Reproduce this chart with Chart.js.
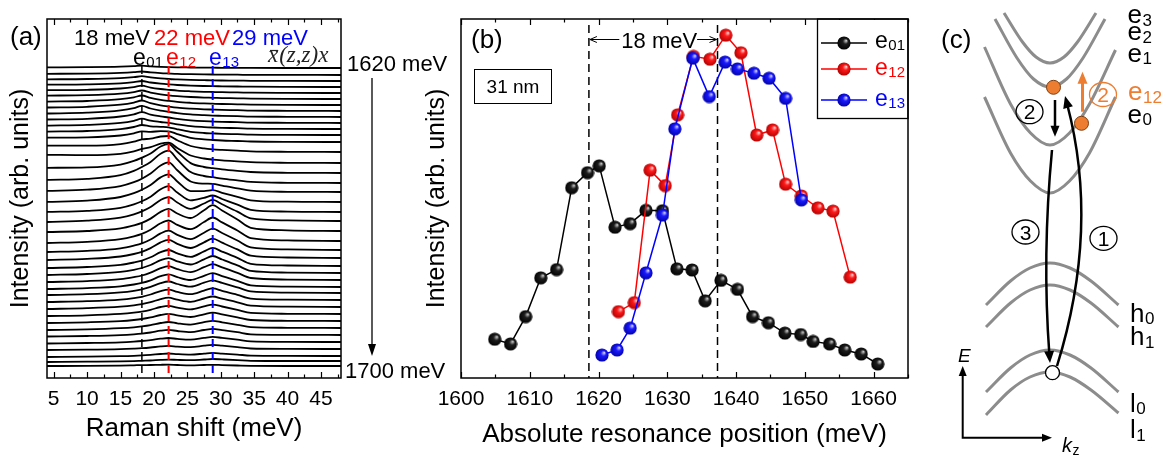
<!DOCTYPE html>
<html>
<head>
<meta charset="utf-8">
<script src="https://cdn.jsdelivr.net/npm/chart.js@4.4.0/dist/chart.umd.min.js"></script>
<style>
html, body { margin: 0; padding: 0; background: #fff; }
#wrap { position: relative; width: 1164px; height: 459px; }
#wrap canvas { position: absolute; left: 0; top: 0; }
</style>
</head>
<body>
<div id="wrap">
  <canvas id="chartA" width="1164" height="459"></canvas>
  <canvas id="chartB" width="1164" height="459"></canvas>
  <canvas id="chartC" width="1164" height="459"></canvas>
</div>
<script>
'use strict';

// ---------- (a) Raman spectra, laser 1620 -> 1700 meV in 2 meV steps (waterfall) ----------
const ramanShift = [4, 10, 15, 17, 18.2, 19.5, 21, 22.2, 23.5, 25.5, 27.5, 28.8, 30.2, 32.5, 34.5, 40, 48];
const ramanTicks = [5, 10, 15, 20, 25, 30, 35, 40, 45];
const modeShift = [18.2, 22.2, 28.8];          // e01, e12, e13
const spectrumOffset = [310, 303, 297, 291, 285, 279, 273, 267, 261, 255, 249, 243, 236, 226, 215, 205, 195, 186, 176, 166, 157,
  147, 137, 128, 120, 112, 105, 98, 91, 85, 78, 71, 64, 57, 50, 43, 36, 29, 22, 17, 12];
const spectra = [
  [0.6, 0.8, 1.3, 1.8, 2.3, 1.7, 1.2, 0.9, 0.7, 0.5, 0.3, 0.3, 0.2, 0.2, 0.1, 0, 0],
  [1.2, 1.4, 2.1, 2.8, 3.5, 2.6, 1.9, 1.5, 1.1, 0.8, 0.6, 0.5, 0.4, 0.3, 0.1, 0.1, 0],
  [1.7, 2, 2.9, 3.8, 4.8, 3.6, 2.6, 2, 1.6, 1.1, 0.8, 0.6, 0.5, 0.4, 0.2, 0.1, 0],
  [2.3, 2.6, 3.7, 4.9, 6, 4.5, 3.3, 2.6, 2, 1.4, 1, 0.8, 0.7, 0.5, 0.3, 0.1, 0],
  [2.8, 3.2, 4.5, 5.9, 7.3, 5.4, 4, 3.2, 2.4, 1.7, 1.2, 1, 0.8, 0.6, 0.3, 0.1, 0],
  [3.4, 3.8, 5.3, 6.9, 8.5, 6.4, 4.7, 3.7, 2.9, 2, 1.4, 1.2, 0.9, 0.7, 0.4, 0.1, 0],
  [3.4, 4, 5.8, 7.7, 9.5, 7.1, 5.2, 4.1, 3.1, 2.2, 1.6, 1.3, 1, 0.7, 0.4, 0.1, 0],
  [3.5, 4.2, 6.3, 8.4, 10.5, 7.8, 5.7, 4.5, 3.4, 2.4, 1.7, 1.4, 1.1, 0.8, 0.4, 0.2, 0],
  [3.5, 4.3, 6.6, 8.9, 11.2, 8.5, 6.4, 5.2, 3.9, 2.6, 1.8, 1.4, 1.2, 0.8, 0.4, 0.2, 0],
  [3.5, 4.2, 6.5, 8.7, 10.9, 8.4, 6.6, 5.5, 4.1, 2.7, 1.8, 1.5, 1.2, 0.8, 0.4, 0.2, 0],
  [3.4, 4.1, 6.1, 8.2, 10.3, 8.3, 7, 6.1, 4.6, 2.8, 1.9, 1.5, 1.2, 0.8, 0.4, 0.1, 0],
  [3.4, 4, 5.9, 8, 10, 8.7, 8.2, 7.7, 5.7, 3.2, 2, 1.6, 1.2, 0.8, 0.4, 0.1, 0],
  [4.3, 4.7, 6.5, 8.6, 10.7, 10.2, 10.8, 10.7, 7.9, 4.2, 2.6, 2, 1.5, 1, 0.5, 0.1, 0],
  [6.3, 6.3, 7.9, 10.3, 12.6, 13.3, 15.5, 16, 11.8, 6, 3.6, 2.7, 2.1, 1.3, 0.7, 0.2, 0],
  [8.2, 7.8, 9.2, 11.7, 14.1, 15.8, 19.3, 20.3, 15, 7.5, 4.5, 3.4, 2.6, 1.6, 0.8, 0.2, 0],
  [5.2, 5.6, 8.4, 12.1, 15.4, 19.5, 26.5, 29, 21.2, 9.9, 6, 4.8, 3.6, 2.1, 1, 0.2, 0],
  [3.2, 4.2, 7.8, 12.1, 16, 21, 29.3, 32.4, 23.6, 10.9, 7, 5.8, 4.4, 2.6, 1.1, 0.2, 0],
  [1.1, 2.3, 5.9, 9.8, 13.3, 18.4, 26.4, 29.6, 21.7, 10.5, 8.4, 8.2, 6.3, 3.6, 1.3, 0.2, 0],
  [0.1, 1.4, 5, 8.8, 12.2, 17, 24.6, 27.7, 20.5, 10.9, 10.9, 11.8, 9.2, 5.2, 1.7, 0.3, 0],
  [0.1, 1.2, 4.2, 7.7, 10.7, 15.3, 22.7, 25.8, 19.5, 11.6, 14.2, 16.5, 13, 7.3, 2.2, 0.4, 0],
  [-1, 0.3, 3.4, 6.7, 9.6, 14, 21, 23.9, 18.5, 12.2, 17.5, 21.1, 16.7, 9.4, 2.7, 0.6, 0],
  [-1, 0, 2.6, 5.6, 8.1, 12.4, 19.1, 22.1, 17.5, 13, 20.8, 25.8, 20.5, 11.5, 3.2, 0.7, 0],
  [-2, -0.8, 1.9, 4.7, 7.1, 11.2, 17.7, 20.5, 16.2, 11.8, 19, 23.5, 18.6, 10.5, 2.9, 0.6, 0],
  [-2, -0.9, 1.7, 4.4, 6.6, 10.5, 16.6, 19.3, 15.2, 10.9, 17.3, 21.4, 17, 9.5, 2.7, 0.6, 0],
  [-2, -0.9, 1.5, 4, 6.2, 9.9, 15.6, 18.1, 14.2, 10, 15.7, 19.3, 15.3, 8.6, 2.4, 0.5, 0],
  [-2, -1, 1.2, 3.5, 5.4, 8.7, 13.8, 16, 12.6, 9.1, 14.6, 18.1, 14.4, 8.1, 2.2, 0.5, 0],
  [-2, -1, 1.1, 3.2, 5, 8, 12.8, 14.9, 11.7, 8.5, 13.7, 17, 13.5, 7.6, 2.1, 0.4, 0],
  [-2, -1.1, 0.9, 2.9, 4.5, 7.4, 11.8, 13.8, 10.9, 7.9, 12.8, 15.9, 12.6, 7.1, 2, 0.4, 0],
  [-2, -1.1, 0.7, 2.5, 4.1, 6.7, 10.8, 12.6, 9.9, 7, 11.2, 13.8, 10.9, 6.1, 1.7, 0.4, 0],
  [-2, -1.2, 0.6, 2.2, 3.7, 6.1, 9.8, 11.5, 9, 6.4, 10.3, 12.7, 10.1, 5.6, 1.6, 0.3, 0],
  [-2, -1.2, 0.4, 1.9, 3.2, 5.5, 8.9, 10.4, 8.1, 5.8, 9.4, 11.6, 9.2, 5.2, 1.4, 0.3, 0],
  [-2, -1.2, 0.3, 1.6, 2.8, 4.8, 7.9, 9.3, 7.3, 5.2, 8.5, 10.5, 8.3, 4.7, 1.3, 0.3, 0],
  [-2, -1.3, 0.1, 1.3, 2.4, 4.2, 7, 8.2, 6.4, 4.6, 7.6, 9.4, 7.5, 4.2, 1.1, 0.2, 0],
  [-2, -1.3, -0.1, 1, 2, 3.6, 6, 7.1, 5.6, 4, 6.7, 8.3, 6.6, 3.7, 1, 0.2, 0],
  [-2, -1.4, -0.2, 0.7, 1.6, 2.9, 5, 6, 4.7, 3.4, 5.8, 7.2, 5.7, 3.2, 0.9, 0.2, 0],
  [-1.5, -1, -0.1, 0.7, 1.4, 2.5, 4.3, 5.1, 4, 2.9, 5, 6.2, 4.9, 2.8, 0.7, 0.2, 0],
  [-1.5, -1, -0.3, 0.4, 1, 1.9, 3.3, 4, 3.1, 2.3, 4.1, 5.1, 4.1, 2.3, 0.6, 0.1, 0],
  [-1, -0.7, -0.1, 0.4, 0.8, 1.5, 2.6, 3.1, 2.4, 1.9, 3.3, 4.1, 3.3, 1.8, 0.5, 0.1, 0],
  [-1, -0.7, -0.2, 0.2, 0.6, 1.2, 2, 2.5, 1.9, 1.4, 2.4, 3.1, 2.4, 1.4, 0.4, 0.1, 0],
  [-1, -0.7, -0.4, -0.1, 0.2, 0.5, 1.1, 1.4, 1.1, 0.8, 1.5, 2, 1.6, 0.9, 0.2, 0, 0],
  [0, 0.1, 0.4, 0.7, 0.9, 1, 1.2, 1.3, 1, 0.7, 1, 1.2, 0.9, 0.5, 0.2, 0, 0]
];

// ---------- (b) resonance profiles ----------
const resTicks = [1600, 1610, 1620, 1630, 1640, 1650, 1660];
const resMarks = [1618.6, 1637.3];
const e01Pos = [1604.9, 1607.2, 1609.4, 1611.6, 1613.9, 1616.1, 1618.4, 1620.1, 1622.4, 1624.6, 1626.9, 1629.3, 1631.4,
  1633.6, 1635.5, 1637.8, 1640.2, 1642.4, 1644.7, 1647.1, 1649.4, 1651.2, 1653.6, 1655.8, 1658.2, 1660.6];
const e01Int = [10.8, 9.5, 17.1, 27.9, 30.2, 53.0, 57.2, 59.1, 42.0, 43.0, 46.7, 46.6, 30.4,
  30.1, 21.5, 27.2, 24.7, 17.1, 15.4, 12.5, 12.1, 10.2, 9.5, 7.8, 6.7, 3.9];
const e12Pos = [1622.9, 1625.2, 1627.5, 1629.7, 1631.5, 1633.8, 1636.2, 1638.5, 1640.7, 1643.0, 1645.3, 1647.2, 1649.5, 1651.9, 1654.1, 1656.6];
const e12Int = [18.5, 21.0, 57.9, 53.6, 73.3, 89.6, 88.8, 95.5, 90.6, 67.7, 69.1, 54.0, 50.7, 47.4, 46.5, 28.1];
const e13Pos = [1620.5, 1622.7, 1624.6, 1626.9, 1629.3, 1631.1, 1633.7, 1636.1, 1638.4, 1640.2, 1642.6, 1644.8, 1647.2, 1649.5];
const e13Int = [6.4, 7.8, 13.9, 29.3, 45.4, 69.4, 89.1, 78.4, 88.0, 86.1, 84.9, 83.5, 77.9, 49.6];

// ---------- (c) band scheme, [kz, E] in arbitrary units ----------
const bandE3 = [[-0.92, 44.6], [-0.55, 41.7], [-0.28, 40.2], [0, 39.6], [0.28, 40.2], [0.55, 41.7], [0.92, 44.6]];
const bandE2 = [[-1.1, 44.0], [-0.66, 40.1], [-0.33, 38.0], [0, 37.2], [0.33, 38.0], [0.66, 40.1], [1.1, 44.0]];
const bandE1 = [[-1.31, 41.2], [-0.79, 35.5], [-0.39, 32.6], [0, 31.4], [0.39, 32.6], [0.79, 35.5], [1.31, 40.9]];
const bandE0 = [[-1.31, 36.2], [-0.79, 30.6], [-0.39, 27.8], [0, 26.6], [0.39, 27.8], [0.79, 30.6], [1.31, 36.2]];
const bandH0 = [[-1.28, 15.4], [-0.79, 17.8], [-0.4, 19.1], [0, 19.6], [0.4, 19.1], [0.82, 17.8], [1.37, 15.4]];
const bandH1 = [[-1.28, 13.2], [-0.79, 15.6], [-0.4, 16.9], [0, 17.4], [0.4, 16.9], [0.82, 15.6], [1.37, 13.2]];
const bandL0 = [[-1.28, 6.7], [-0.79, 9.1], [-0.4, 10.4], [0, 10.9], [0.4, 10.4], [0.82, 9.1], [1.37, 6.7]];
const bandL1 = [[-1.28, 4.4], [-0.79, 6.9], [-0.4, 8.2], [0, 8.7], [0.4, 8.2], [0.82, 6.9], [1.37, 4.6]];
const electronK = [0.07, 0.63];
const electronE = [37.17, 33.57];
const holeK = [0.05];
const holeE = [8.63];

const FONT = '"Liberation Sans", Arial, sans-serif';
const SERIF = '"Liberation Serif", "DejaVu Serif", serif';
const ORANGE = '#ed7d31';
Chart.defaults.color = '#000';
Chart.defaults.font.family = FONT;

function put(ctx, str, x, y, size, color, align, style, family) {
  ctx.font = `${style || ''} ${size}px ${family || FONT}`;
  ctx.fillStyle = color || '#000';
  ctx.textAlign = align || 'left';
  ctx.textBaseline = 'alphabetic';
  ctx.fillText(str, x, y);
  return ctx.measureText(str).width;
}

function putSub(ctx, base, sub, x, y, size, color) {
  const w = put(ctx, base, x, y, size, color);
  put(ctx, sub, x + w + 0.5, y + size * 0.1, Math.round(size * 0.65), color);
}

function head(ctx, x, y, ang, len, half) {
  ctx.beginPath();
  ctx.moveTo(x, y);
  ctx.lineTo(x - len * Math.cos(ang) + half * Math.sin(ang), y - len * Math.sin(ang) - half * Math.cos(ang));
  ctx.lineTo(x - len * Math.cos(ang) - half * Math.sin(ang), y - len * Math.sin(ang) + half * Math.cos(ang));
  ctx.closePath();
  ctx.fill();
}

function innerTicks(ctx, scale, a, values, len) {
  ctx.beginPath();
  values.forEach(v => {
    if (v < scale.min || v > scale.max) return;
    const px = Math.round(scale.getPixelForValue(v)) + 0.5;
    ctx.moveTo(px, a.top); ctx.lineTo(px, a.top + len);
    ctx.moveTo(px, a.bottom); ctx.lineTo(px, a.bottom - len);
  });
  ctx.stroke();
}

function circled(ctx, n, cx, cy, color) {
  ctx.strokeStyle = color; ctx.lineWidth = 1.3;
  ctx.beginPath(); ctx.ellipse(cx, cy, 13.5, 12, 0, 0, Math.PI * 2); ctx.stroke();
  put(ctx, n, cx, cy + 7.5, 21, color, 'center');
}

function ball(base, shade, light) {
  const c = document.createElement('canvas');
  c.width = c.height = 14;
  const g = c.getContext('2d');
  const grd = g.createRadialGradient(9.3, 4.6, 0.3, 7, 7, 7);
  grd.addColorStop(0, light);
  grd.addColorStop(0.35, base);
  grd.addColorStop(1, shade);
  g.fillStyle = grd;
  g.beginPath(); g.arc(7, 7, 6.6, 0, Math.PI * 2); g.fill();
  return c;
}
const balls = [ball('#1e1e1e', '#000', '#c8c8c8'), ball('#ff1a1a', '#b00000', '#ffd0d0'), ball('#1a1aff', '#0000a8', '#d0d0ff')];

const noGrid = { display: false, drawTicks: false };
const tickFont = { family: FONT, size: 21 };
const plainTick = v => String(v);

// ---------- panel (a) ----------
const panelA = {
  id: 'panelA',
  afterDatasetsDraw(chart) {
    const { ctx, chartArea: a, scales: { x } } = chart;
    const colors = ['#000', '#ff0000', '#0000ff'];
    ctx.save();
    modeShift.forEach((m, i) => {
      const px = x.getPixelForValue(m);
      ctx.strokeStyle = colors[i];
      ctx.lineWidth = i ? 2 : 1.5;
      ctx.setLineDash([8, 5]);
      ctx.beginPath(); ctx.moveTo(px, 66); ctx.lineTo(px, a.bottom); ctx.stroke();
    });
    ctx.setLineDash([]);
    ctx.strokeStyle = '#000'; ctx.lineWidth = 1.5;
    ctx.strokeRect(a.left, a.top, a.right - a.left, a.bottom - a.top);
    ctx.lineWidth = 1.2;
    innerTicks(ctx, x, a, ramanTicks, 6);
    innerTicks(ctx, x, a, ramanTicks.map(v => v + 2.5), 3.5);

    put(ctx, '(a)', 10, 45, 26);
    put(ctx, '18 meV', 112, 45, 22, '#000', 'center');
    put(ctx, '22 meV', 192, 45, 22, '#ff0000', 'center');
    put(ctx, '29 meV', 270, 45, 22, '#0000ff', 'center');
    putSub(ctx, 'e', '01', 133, 65, 23, '#000');
    putSub(ctx, 'e', '12', 166, 65, 23, '#ff0000');
    putSub(ctx, 'e', '13', 209, 65, 23, '#0000ff');
    const wx = put(ctx, 'x', 268, 62, 23, '#222', 'left', 'italic', SERIF);
    put(ctx, '(z,z)x', 269 + wx, 62, 23, '#222', 'left', 'italic', SERIF);
    ctx.strokeStyle = '#222'; ctx.lineWidth = 1.2;
    ctx.beginPath(); ctx.moveTo(270, 50.5); ctx.lineTo(268 + wx, 50.5); ctx.stroke();

    put(ctx, '1620 meV', 347, 71, 22);
    put(ctx, '1700 meV', 345, 378, 22);
    ctx.strokeStyle = '#000'; ctx.fillStyle = '#000'; ctx.lineWidth = 1.3;
    ctx.beginPath(); ctx.moveTo(372, 78); ctx.lineTo(372, 345); ctx.stroke();
    head(ctx, 372, 356, Math.PI / 2, 12, 4);
    ctx.restore();
  }
};

new Chart(document.getElementById('chartA'), {
  type: 'scatter',
  data: {
    datasets: spectra.map((row, i) => ({
      data: row.map((v, j) => ({ x: ramanShift[j], y: spectrumOffset[i] + v })),
      showLine: true,
      borderColor: '#000',
      borderWidth: 1.8,
      pointRadius: 0,
      cubicInterpolationMode: 'monotone'
    }))
  },
  options: {
    responsive: false, animation: false, events: [],
    layout: { autoPadding: false, padding: { left: 0, right: 1164 - 341, top: 19, bottom: 0 } },
    plugins: { legend: { display: false }, tooltip: { enabled: false } },
    scales: {
      x: {
        type: 'linear', min: 4, max: 48,
        afterBuildTicks: s => { s.ticks = ramanTicks.map(v => ({ value: v })); },
        afterFit: s => { s.height = 81; },
        grid: noGrid, border: { display: false },
        ticks: { font: tickFont, padding: 9, maxRotation: 0, autoSkip: false, callback: plainTick },
        title: { display: true, text: 'Raman shift (meV)', font: { family: FONT, size: 26 }, padding: { top: 0, bottom: 15 } }
      },
      y: {
        min: 0, max: 359,
        afterFit: s => { s.width = 47; },
        grid: noGrid, border: { display: false }, ticks: { display: false },
        title: { display: true, text: 'Intensity (arb. units)', font: { family: FONT, size: 25 }, padding: { top: 6, bottom: 0 } }
      }
    }
  },
  plugins: [panelA]
});

// ---------- panel (b) ----------
const series = [
  { label: '01', color: '#000000', pos: e01Pos, val: e01Int, row: 43, base: 48 },
  { label: '12', color: '#ff0000', pos: e12Pos, val: e12Int, row: 69, base: 75 },
  { label: '13', color: '#0000ff', pos: e13Pos, val: e13Int, row: 100, base: 106 }
];

const panelB = {
  id: 'panelB',
  beforeDatasetsDraw(chart) {
    const { ctx, chartArea: a, scales: { x } } = chart;
    ctx.save();
    ctx.strokeStyle = '#000'; ctx.lineWidth = 1.5; ctx.setLineDash([8, 5]);
    resMarks.forEach(m => {
      const px = x.getPixelForValue(m);
      ctx.beginPath(); ctx.moveTo(px, 25); ctx.lineTo(px, a.bottom); ctx.stroke();
    });
    ctx.restore();
  },
  afterDatasetsDraw(chart) {
    const { ctx, chartArea: a, scales: { x } } = chart;
    ctx.save();
    ctx.strokeStyle = '#000'; ctx.lineWidth = 1.5;
    ctx.strokeRect(a.left, a.top, a.right - a.left, a.bottom - a.top);
    ctx.lineWidth = 1.2;
    innerTicks(ctx, x, a, resTicks, 6);
    innerTicks(ctx, x, a, resTicks.map(v => v + 5), 3.5);

    put(ctx, '(b)', 471, 48, 26);

    // 18 meV spacing between the two resonances
    const x1 = x.getPixelForValue(resMarks[0]), x2 = x.getPixelForValue(resMarks[1]);
    const cx = (x1 + x2) / 2 + 6;
    const w = put(ctx, '18 meV', cx, 48, 22, '#000', 'center');
    const tl = cx - w / 2, tr = cx + w / 2;
    ctx.lineWidth = 1;
    ctx.beginPath();
    ctx.moveTo(tl - 2, 39.5); ctx.lineTo(x1 + 1, 39.5);
    ctx.moveTo(x1 + 8, 36.5); ctx.lineTo(x1 + 1, 39.5); ctx.lineTo(x1 + 8, 42.5);
    ctx.moveTo(tr, 39.5); ctx.lineTo(x2 - 1, 39.5);
    ctx.moveTo(x2 - 8, 36.5); ctx.lineTo(x2 - 1, 39.5); ctx.lineTo(x2 - 8, 42.5);
    ctx.stroke();

    // sample label
    ctx.strokeRect(474.5, 69.5, 77, 34);
    put(ctx, '31 nm', 513, 93, 19, '#000', 'center');

    // legend
    ctx.fillStyle = '#fff';
    ctx.fillRect(818, a.top + 1, a.right - 819, 98);
    ctx.strokeStyle = '#000'; ctx.lineWidth = 1.3;
    ctx.strokeRect(817.5, a.top, a.right - 817.5, 99.5);
    series.forEach((s, i) => {
      ctx.strokeStyle = s.color; ctx.lineWidth = 1.5;
      ctx.beginPath(); ctx.moveTo(821, s.row); ctx.lineTo(867, s.row); ctx.stroke();
      ctx.drawImage(balls[i], 844 - 7, s.row - 7);
      putSub(ctx, 'e', s.label, 875, s.base, 23, s.color);
    });
    ctx.restore();
  }
};

new Chart(document.getElementById('chartB'), {
  type: 'scatter',
  data: {
    datasets: series.map((s, i) => ({
      data: s.pos.map((p, j) => ({ x: p, y: s.val[j] })),
      showLine: true,
      borderColor: s.color,
      borderWidth: 1.5,
      pointStyle: balls[i],
      pointRadius: 6,
      order: 3 - i
    }))
  },
  options: {
    responsive: false, animation: false, events: [],
    layout: { autoPadding: false, padding: { left: 400, right: 1164 - 908, top: 19, bottom: 0 } },
    plugins: { legend: { display: false }, tooltip: { enabled: false } },
    scales: {
      x: {
        type: 'linear', min: 1600, max: 1665,
        afterBuildTicks: s => { s.ticks = resTicks.map(v => ({ value: v })); },
        afterFit: s => { s.height = 81; },
        grid: noGrid, border: { display: false },
        ticks: { font: tickFont, padding: 9, maxRotation: 0, autoSkip: false, callback: plainTick },
        title: { display: true, text: 'Absolute resonance position (meV)', font: { family: FONT, size: 26 }, padding: { top: 0, bottom: 9 } }
      },
      y: {
        min: 0, max: 100,
        afterFit: s => { s.width = 61; },
        grid: noGrid, border: { display: false }, ticks: { display: false },
        title: { display: true, text: 'Intensity (arb. units)', font: { family: FONT, size: 25 }, padding: { top: 22, bottom: 0 } }
      }
    }
  },
  plugins: [panelB]
});

// ---------- panel (c) ----------
const panelC = {
  id: 'panelC',
  beforeDatasetDraw(chart, args) {
    if (args.index !== 1) return;
    const { ctx, scales: { x, y } } = chart;
    const P = (k, E) => [x.getPixelForValue(k), y.getPixelForValue(E)];
    ctx.save();
    ctx.strokeStyle = '#000'; ctx.fillStyle = '#000'; ctx.lineWidth = 2.5;

    // (1) excitation, (3) recombination: curved arrows
    const curve = (p0, c, p2) => {
      const [a0, b0] = P(...p0), [ac, bc] = P(...c), [a2, b2] = P(...p2);
      const ang = Math.atan2(b2 - bc, a2 - ac);
      ctx.beginPath(); ctx.moveTo(a0, b0);
      ctx.quadraticCurveTo(ac, bc, a2 - 8 * Math.cos(ang), b2 - 8 * Math.sin(ang));
      ctx.stroke();
      head(ctx, a2, b2, ang, 12, 5);
    };
    curve([0.14, 9.3], [1.0, 23.1], [0.3, 36.3]);
    curve([0.04, 30.9], [-0.16, 20.35], [0, 9.6]);

    // (2) relaxation e1 -> e0
    let [ax, ay] = P(0.1, 35.9), [bx, by] = P(0.1, 32.23);
    ctx.beginPath(); ctx.moveTo(ax, ay); ctx.lineTo(bx, by - 8); ctx.stroke();
    head(ctx, bx, by, Math.PI / 2, 11, 4.5);

    // (2) orange intersubband transition
    ctx.strokeStyle = ORANGE; ctx.fillStyle = ORANGE; ctx.lineWidth = 3;
    [ax, ay] = P(0.65, 34.73); [bx, by] = P(0.65, 38.73);
    ctx.beginPath(); ctx.moveTo(ax, ay); ctx.lineTo(bx, by + 9); ctx.stroke();
    head(ctx, bx, by, -Math.PI / 2, 12, 5);
    ctx.restore();
  },
  afterDatasetsDraw(chart) {
    const { ctx, scales: { x, y } } = chart;
    const P = (k, E) => [x.getPixelForValue(k), y.getPixelForValue(E)];
    ctx.save();
    put(ctx, '(c)', ...P(-2.18, 41.1), 26);
    circled(ctx, '2', ...P(-0.41, 34.73), '#000');
    circled(ctx, '2', ...P(1.06, 36.45), ORANGE);
    circled(ctx, '3', ...P(-0.49, 22.7), '#000');
    circled(ctx, '1', ...P(1.07, 22.07), '#000');

    putSub(ctx, 'e', '3', ...P(1.55, 43.57), 26, '#000');
    putSub(ctx, 'e', '2', ...P(1.55, 41.9), 26, '#000');
    putSub(ctx, 'e', '1', ...P(1.55, 39.73), 26, '#000');
    putSub(ctx, 'e', '12', ...P(1.56, 35.9), 26, ORANGE);
    putSub(ctx, 'e', '0', ...P(1.55, 33.63), 26, '#000');
    putSub(ctx, 'h', '0', ...P(1.6, 13.73), 26, '#000');
    putSub(ctx, 'h', '1', ...P(1.6, 11.4), 26, '#000');
    putSub(ctx, 'l', '0', ...P(1.6, 4.73), 26, '#000');
    putSub(ctx, 'l', '1', ...P(1.6, 2.07), 26, '#000');

    // E-kz axes
    const [ox, oy] = P(-1.746, 2.13), [, ty] = P(-1.746, 9.3), [rx] = P(0.04, 2.13);
    ctx.strokeStyle = '#000'; ctx.fillStyle = '#000'; ctx.lineWidth = 2;
    ctx.beginPath(); ctx.moveTo(ox, ty + 8); ctx.lineTo(ox, oy); ctx.lineTo(rx - 8, oy); ctx.stroke();
    head(ctx, ox, ty, -Math.PI / 2, 10, 4);
    head(ctx, rx, oy, 0, 10, 4);
    put(ctx, 'E', ...P(-1.84, 9.7), 19, '#000', 'left', 'italic');
    const [kx, ky] = P(0.24, 0.7);
    const wk = put(ctx, 'k', kx, ky, 20, '#000', 'left', 'italic');
    put(ctx, 'z', kx + wk + 0.5, ky + 3, 14);
    ctx.restore();
  }
};

const bands = [bandE3, bandE2, bandE1, bandE0, bandH0, bandH1, bandL0, bandL1];

new Chart(document.getElementById('chartC'), {
  type: 'scatter',
  data: {
    datasets: [
      { data: electronK.map((k, i) => ({ x: k, y: electronE[i] })), pointRadius: 7, backgroundColor: ORANGE, borderColor: '#7a3f14', borderWidth: 1, order: 0 },
      { data: holeK.map((k, i) => ({ x: k, y: holeE[i] })), pointRadius: 7, backgroundColor: '#fff', borderColor: '#000', borderWidth: 1.3, order: 0 },
      ...bands.map(b => ({
        data: b.map(([k, E]) => ({ x: k, y: E })),
        showLine: true,
        borderColor: '#8c8c8c',
        borderWidth: 3,
        pointRadius: 0,
        cubicInterpolationMode: 'monotone',
        order: 1
      }))
    ]
  },
  options: {
    responsive: false, animation: false, events: [],
    layout: { autoPadding: false, padding: { left: 920, right: 0, top: 0, bottom: 0 } },
    plugins: { legend: { display: false }, tooltip: { enabled: false } },
    scales: {
      x: { type: 'linear', min: -2.6, max: 2.28, display: false },
      y: { min: 0, max: 45.9, display: false }
    }
  },
  plugins: [panelC]
});
</script>
</body>
</html>
